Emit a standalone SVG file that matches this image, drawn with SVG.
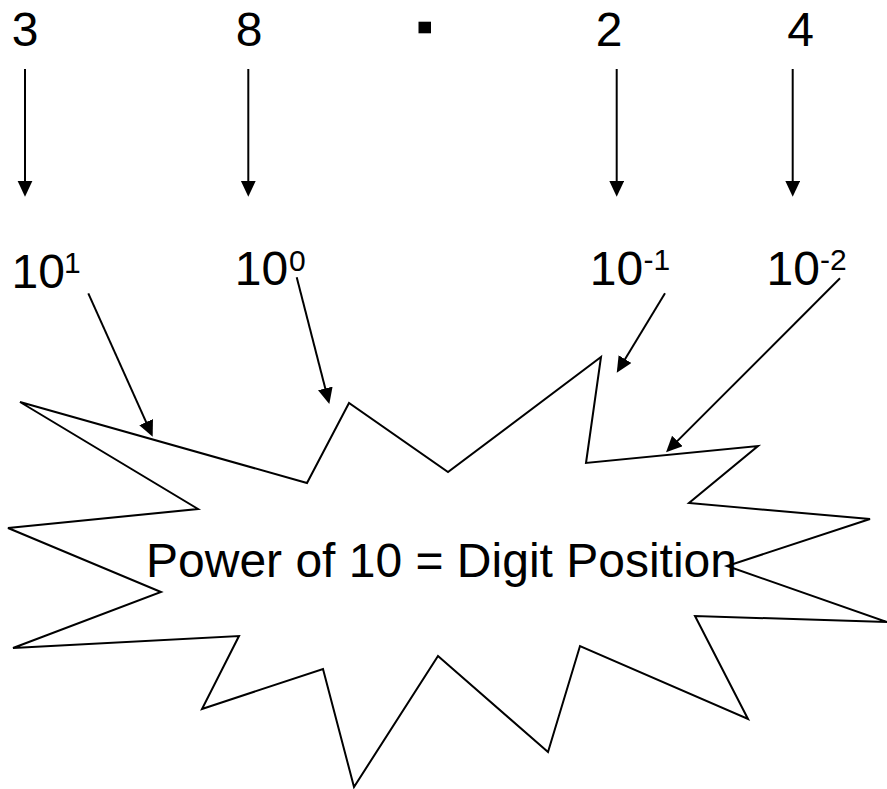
<svg xmlns="http://www.w3.org/2000/svg" width="887" height="789" viewBox="0 0 887 789">
<style>
text{font-family:"Liberation Sans",Arial,sans-serif;fill:#000}
.big{font-size:48px}
.sup{font-size:30px}
.arr{stroke:#000;stroke-width:2;fill:none;marker-end:url(#ah)}
.burst{fill:#fff;stroke:#000;stroke-width:2;stroke-linejoin:miter}
</style>
<defs>
<marker id="ah" markerUnits="userSpaceOnUse" markerWidth="17" markerHeight="16" refX="8" refY="7.5" orient="auto" viewBox="0 0 17 16">
<path d="M0,0 L16,7.5 L0,15 z" fill="#000"/>
</marker>
</defs>
<rect width="887" height="789" fill="#fff"/>
<g id="burst">
<polygon class="burst" points="20,402 307,483 349,403 448,472 601,357 586,463 758,446 689,503 870,519 727,566 887,622 695,616 748,719 580,646 548,752 438,656 354,787 323,669 202,709 239,636 13,648 161,592 8,528 198,509"/>
<text class="big" x="146" y="577">Power of 10 = Digit Position</text>
</g>
<g id="digit-3"><text class="big" x="25" y="46" text-anchor="middle">3</text></g>
<g id="digit-8"><text class="big" x="249" y="46" text-anchor="middle">8</text></g>
<g id="point"><rect x="418.5" y="21.7" width="12.5" height="11.6" fill="#000"/></g>
<g id="digit-2"><text class="big" x="609" y="46" text-anchor="middle">2</text></g>
<g id="digit-4"><text class="big" x="800.5" y="46" text-anchor="middle">4</text></g>
<g id="pow-1"><text class="big" x="11.5" y="288">10</text><text class="sup" x="64" y="273">1</text></g>
<g id="pow-0"><text class="big" x="234.8" y="285">10</text><text class="sup" x="289" y="271">0</text></g>
<g id="pow-m1"><text class="big" x="589.8" y="285">10</text><text class="sup" x="643.5" y="270">-1</text></g>
<g id="pow-m2"><text class="big" x="766.5" y="285">10</text><text class="sup" x="820" y="270">-2</text></g>
<g id="connectors">
<line class="arr" x1="25" y1="69" x2="25" y2="188.7"/>
<line class="arr" x1="248.3" y1="69" x2="248.3" y2="188.7"/>
<line class="arr" x1="616.7" y1="69" x2="616.7" y2="188.7"/>
<line class="arr" x1="792.7" y1="69" x2="792.7" y2="188.7"/>
<line class="arr" x1="88.3" y1="293.3" x2="149.4" y2="429.4"/>
<line class="arr" x1="296.7" y1="277.3" x2="327.3" y2="396.2"/>
<line class="arr" x1="665" y1="293.3" x2="620.9" y2="365.9"/>
<line class="arr" x1="840" y1="278.3" x2="671.7" y2="446.6"/>
</g>
</svg>
